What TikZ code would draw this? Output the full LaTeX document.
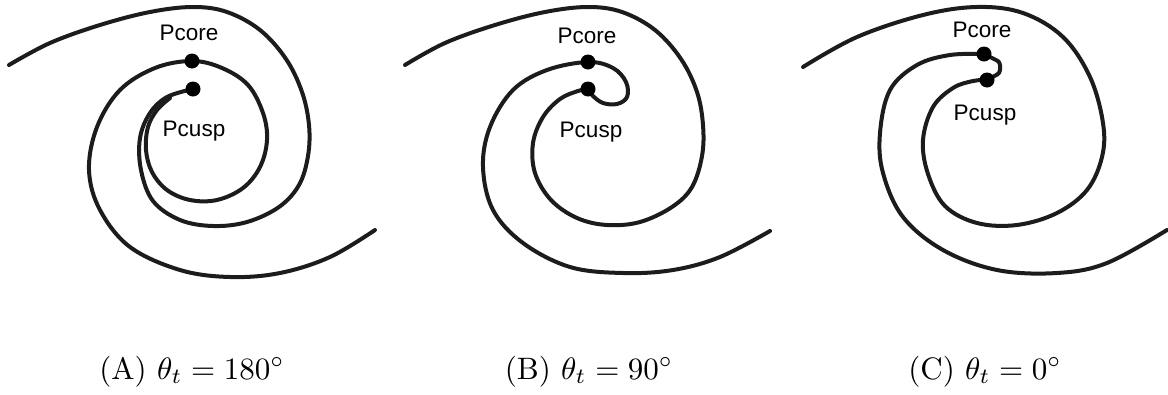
\documentclass[tikz,border=0pt]{standalone}
\usepackage{fontspec}
\newfontfamily\labelfont{Liberation Sans}
\definecolor{curvecol}{RGB}{28,28,28}
\tikzset{
  front/.style={line width=4pt, draw=curvecol, line cap=round, line join=round},
  tipdot/.style={circle, fill=black, inner sep=0pt, minimum size=15pt},
  ptlabel/.style={font=\labelfont\fontsize{22.5}{27}\selectfont, anchor=base, inner sep=0pt},
  captext/.style={font=\fontsize{10}{12}\selectfont, anchor=base, inner sep=0pt, scale=3.1}
}
\begin{document}
\begin{tikzpicture}[x=1pt,y=-1pt]
\useasboundingbox (0,0) rectangle (1168,394);
% ---------- panel A ----------
\coordinate (coreA) at (192,61);
\coordinate (cuspA) at (193,89);
\draw[front] plot[smooth,tension=0.6] coordinates {(9,65) (50,43) (100,25) (150,12) (193,7) (227,12) (260,30) (286,59) (302,92) (309,125) (308,156) (299,185) (279,207) (247,222) (213,226) (180,220) (153,201) (141,170) (140,138) (150,113) (167,97) (cuspA)};
\draw[front] plot[smooth,tension=0.6] coordinates {(375,230) (330,257) (280,273) (230,277) (180,270) (130,247) (100,210) (89,170) (97,127) (120,90) (155,68) (coreA) (222,68) (248,85) (263,113) (267,140) (260,167) (243,188) (217,200) (190,200) (167,190) (152,172) (146,150) (148,127) (157,110) (170,98)};
\node[tipdot] (dcoreA) at (coreA) {};
\node[tipdot] (dcuspA) at (cuspA) {};
\node[ptlabel] (lcoreA) at (189,40) {Pcore};
\node[ptlabel] (lcuspA) at (194,136) {Pcusp};
\node[captext] (capA) at (192,379) {(A) $\theta_t = 180^\circ$};
% ---------- panel B ----------
\coordinate (coreB) at (588,62);
\coordinate (cuspB) at (588,89);
\draw[front] plot[smooth,tension=0.6] coordinates {(405,65) (445,43) (495,25) (545,12) (588,7) (622,12) (655,30) (681,59) (697,92) (703,125) (702,156) (692,187) (672,207) (640,222) (607,225) (577,218) (551,200) (535,173) (533,143) (543,117) (560,99) (578,91) (cuspB)};
\draw[front] plot[smooth,tension=0.6] coordinates {(770,231) (720,257) (673,270) (623,273) (570,267) (523,243) (493,210) (483,167) (490,127) (513,90) (547,70) (coreB) (613,68) (626,82) (627,97) (617,104) (603,103) (593,96) (cuspB)};
\node[tipdot] (dcoreB) at (coreB) {};
\node[tipdot] (dcuspB) at (cuspB) {};
\node[ptlabel] (lcoreB) at (587,43) {Pcore};
\node[ptlabel] (lcuspB) at (591,137) {Pcusp};
\node[captext] (capB) at (589,379) {(B) $\theta_t = 90^\circ$};
% ---------- panel C ----------
\coordinate (coreC) at (984,54);
\coordinate (cuspC) at (987,80);
\draw[front] plot[smooth,tension=0.6] coordinates {(803,67) (857,37) (923,15) (977,7) (1023,13) (1063,37) (1090,77) (1103,123) (1102,157) (1087,190) (1057,213) (1017,225) (977,223) (945,206) (928,174) (923,140) (933,107) (953,88) (973,81) (cuspC)};
\draw[front] plot[smooth,tension=0.6] coordinates {(1167,230) (1107,263) (1057,273) (997,270) (943,250) (903,217) (883,173) (880,133) (890,90) (917,65) (950,55) (coreC)};
\draw[front,rounded corners=3pt] (coreC) -- (1000,62) -- (1000,73) -- (cuspC);
\node[tipdot] (dcoreC) at (coreC) {};
\node[tipdot] (dcuspC) at (cuspC) {};
\node[ptlabel] (lcoreC) at (982,37) {Pcore};
\node[ptlabel] (lcuspC) at (985,120) {Pcusp};
\node[captext] (capC) at (985,379) {(C) $\theta_t = 0^\circ$};
\end{tikzpicture}
\end{document}
